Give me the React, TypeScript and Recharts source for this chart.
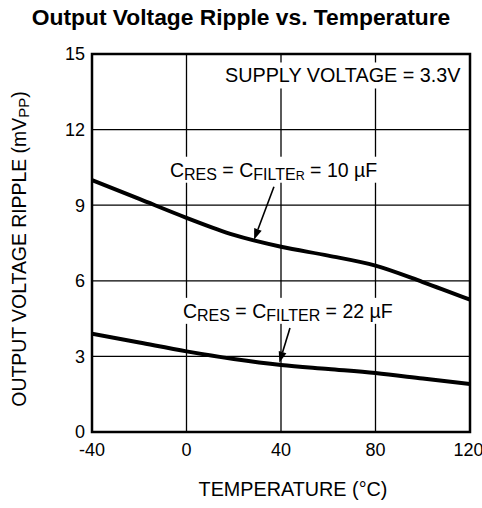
import { CartesianGrid, Label, Line, LineChart, ReferenceArea, ReferenceDot, ReferenceLine, XAxis, YAxis } from "recharts";

const temps = [-40, -20, 0, 20, 40, 60, 80, 100, 120];
const ripple10uF = [10.0, 9.25, 8.5, 7.82, 7.35, 7.0, 6.6, 5.95, 5.25];
const ripple22uF = [3.9, 3.55, 3.2, 2.9, 2.66, 2.5, 2.34, 2.12, 1.9];
const xTicks = [-40, 0, 40, 80, 120];
const yTicks = [0, 3, 6, 9, 12, 15];

// arrows: [tailTemp, tailRipple, tipTemp, tipRipple]
const arrow10 = [37, 9.73, 28.6, 7.63];
const arrow22 = [43.8, 4.13, 39.3, 2.75];

const data = temps.map((t, i) => ({ temp: t, c10: ripple10uF[i], c22: ripple22uF[i] }));

const font = "'Liberation Sans', Arial, sans-serif";

function Arrow(props: any) {
  const { x1, y1, x2, y2 } = props;
  if ([x1, y1, x2, y2].some((v) => typeof v !== "number")) return null;
  const ang = Math.atan2(y2 - y1, x2 - x1);
  const len = 11;
  const half = 4;
  const bx = x2 - len * Math.cos(ang);
  const by = y2 - len * Math.sin(ang);
  const px = -Math.sin(ang) * half;
  const py = Math.cos(ang) * half;
  return (
    <g>
      <line x1={x1} y1={y1} x2={bx} y2={by} stroke="#000" strokeWidth={1.6} />
      <polygon points={`${x2},${y2} ${bx + px},${by + py} ${bx - px},${by - py}`} fill="#000" />
    </g>
  );
}

function CapLabel({ cx, cy, cap, width }: any) {
  if (typeof cx !== "number") return null;
  const sub = { fontSize: 16, dy: 3 };
  return (
    <g>
      <rect x={cx - 3} y={cy - 20} width={width} height={26} fill="#fff" />
      <text x={cx} y={cy} fontFamily={font} fontSize={19.5} fill="#000">
        C<tspan {...sub}>RES</tspan>
        <tspan dy={-3}> = C</tspan>
        {cap === "10" ? (
          <>
            <tspan {...sub}>FILTE</tspan>
            <tspan fontSize={12.5}>R</tspan>
          </>
        ) : (
          <tspan {...sub}>FILTER</tspan>
        )}
        <tspan dy={-3}>{` = ${cap} µF`}</tspan>
      </text>
    </g>
  );
}

function SupplyLabel({ cx, cy }: any) {
  if (typeof cx !== "number") return null;
  return (
    <g>
      <rect x={cx - 4} y={cy - 20} width={244} height={26} fill="#fff" />
      <text x={cx} y={cy} fontFamily={font} fontSize={19.8} fill="#000">
        SUPPLY VOLTAGE = 3.3V
      </text>
    </g>
  );
}

export default function App() {
  return (
    <div style={{ position: "absolute", left: 0, top: 0, width: 482, height: 508, background: "#fff" }}>
      <div
        style={{
          position: "absolute",
          left: 0,
          top: 6,
          width: 482,
          textAlign: "center",
          fontFamily: font,
          fontWeight: "bold",
          fontSize: 22.8,
          lineHeight: 1,
          color: "#000",
        }}
      >
        Output Voltage Ripple vs. Temperature
      </div>
      <LineChart width={482} height={508} data={data} margin={{ top: 54, right: 12, bottom: 0, left: 0 }}>
        <CartesianGrid stroke="#000" strokeWidth={1.3} horizontalValues={yTicks} verticalValues={xTicks} />
        <XAxis
          dataKey="temp"
          type="number"
          domain={[-40, 120]}
          ticks={xTicks}
          height={76}
          axisLine={false}
          tickLine={false}
          tickSize={0}
          tickMargin={11}
          tick={{ fill: "#000", fontSize: 18, fontFamily: font }}
          allowDataOverflow
        >
          <Label
            content={() => (
              <text x={293} y={496} textAnchor="middle" fontFamily={font} fontSize={19.8} fill="#000">
                TEMPERATURE (°C)
              </text>
            )}
          />
        </XAxis>
        <YAxis
          type="number"
          domain={[0, 15]}
          ticks={yTicks}
          width={92}
          axisLine={false}
          tickLine={false}
          tickSize={0}
          tickMargin={7}
          tick={{ fill: "#000", fontSize: 18, fontFamily: font }}
        >
          <Label
            content={() => (
              <text
                x={26}
                y={249}
                transform="rotate(-90 26 249)"
                textAnchor="middle"
                fontFamily={font}
                fontSize={19.4}
                fill="#000"
              >
                OUTPUT VOLTAGE RIPPLE (mV<tspan fontSize={15} dy={3}>PP</tspan>
                <tspan dy={-3}>)</tspan>
              </text>
            )}
          />
        </YAxis>
        <ReferenceDot x={16.3} y={13.87} r={0} shape={(p: any) => <SupplyLabel {...p} />} />
        <ReferenceDot x={-7} y={10.13} r={0} shape={(p: any) => <CapLabel {...p} cap="10" width={214} />} />
        <ReferenceDot x={-1.5} y={4.53} r={0} shape={(p: any) => <CapLabel {...p} cap="22" width={218} />} />
        <Line dataKey="c10" type="monotone" stroke="#000" strokeWidth={4} dot={false} isAnimationActive={false} />
        <Line dataKey="c22" type="monotone" stroke="#000" strokeWidth={4} dot={false} isAnimationActive={false} />
        <ReferenceLine
          segment={[
            { x: arrow10[0], y: arrow10[1] },
            { x: arrow10[2], y: arrow10[3] },
          ]}
          shape={(p: any) => <Arrow {...p} />}
        />
        <ReferenceLine
          segment={[
            { x: arrow22[0], y: arrow22[1] },
            { x: arrow22[2], y: arrow22[3] },
          ]}
          shape={(p: any) => <Arrow {...p} />}
        />
        <ReferenceArea x1={-40} x2={120} y1={0} y2={15} fill="none" stroke="#000" strokeWidth={2.5} fillOpacity={0} />
      </LineChart>
    </div>
  );
}
